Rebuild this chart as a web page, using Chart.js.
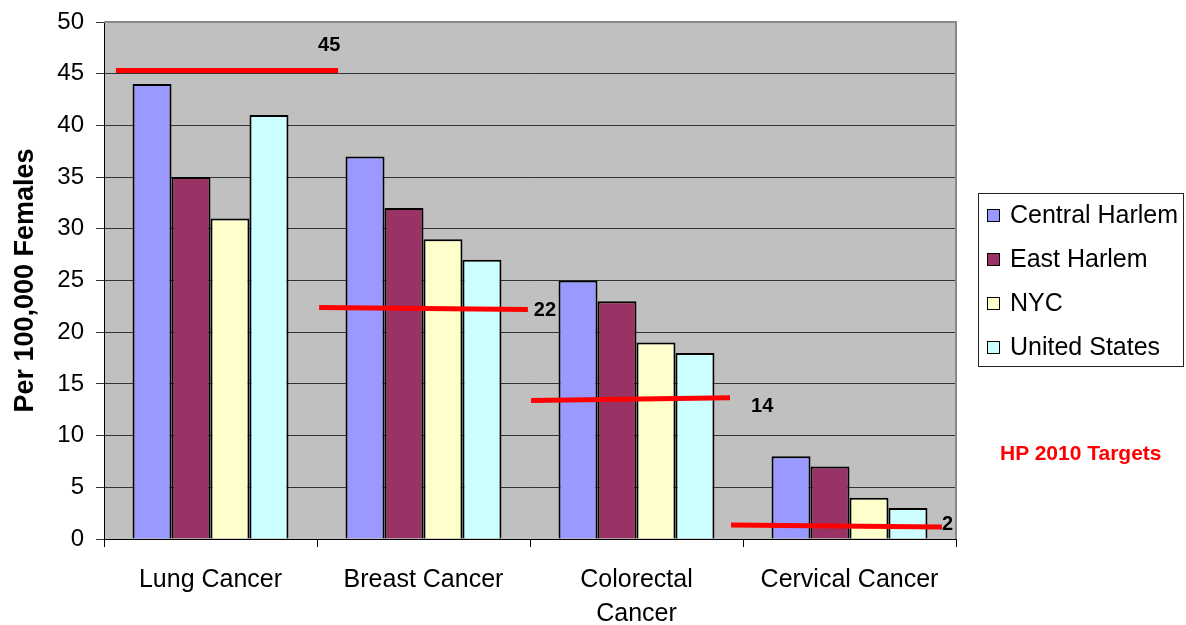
<!DOCTYPE html>
<html>
<head>
<meta charset="utf-8">
<script src="https://cdn.jsdelivr.net/npm/chart.js@4/dist/chart.umd.min.js"></script>
<style>
  body { margin: 0; background: #fff; font-family: "Liberation Sans", Arial, sans-serif; }
  #wrap { position: relative; width: 1186px; height: 625px; }
  #legend { position: absolute; left: 978px; top: 193px; width: 206px; height: 174px; border: 1px solid #222; box-sizing: border-box; }
  .item { position: absolute; left: 8px; height: 30px; line-height: 30px; font-size: 25px; white-space: nowrap; }
  .item span.box { display: inline-block; width: 11px; height: 11px; border: 1.5px solid #000; margin-right: 10px; vertical-align: 1px; }
  #targets { position: absolute; left: 1000px; top: 441px; font-weight: bold; font-size: 21px; color: #ff0000; }
</style>
</head>
<body>
<div id="wrap">
  <canvas id="chart" width="1186" height="625"></canvas>
  <div id="legend"></div>
  <div id="targets">HP 2010 Targets</div>
</div>
<script>
const categories = [['Lung Cancer'], ['Breast Cancer'], ['Colorectal', 'Cancer'], ['Cervical Cancer']];
const seriesNames = ['Central Harlem', 'East Harlem', 'NYC', 'United States'];
const centralHarlem = [44, 37, 25, 8];
const eastHarlem = [35, 32, 23, 7];
const nyc = [31, 29, 19, 4];
const unitedStates = [41, 27, 18, 3];
const yTicks = [0, 5, 10, 15, 20, 25, 30, 35, 40, 45, 50];

// HP 2010 targets (label) and where the hand-drawn red lines start / end
const targetLabels = ['45', '22', '14', '2'];
const targetFrom = [45.3, 22.4, 13.4, 1.35];
const targetTo = [45.3, 22.2, 13.65, 1.15];

const colors = ['#9999ff', '#993366', '#ffffcc', '#ccffff'];
const font = '"Liberation Sans", Arial, sans-serif';

const legend = document.getElementById('legend');
seriesNames.forEach((name, i) => {
    const d = document.createElement('div');
    d.className = 'item';
    d.style.top = (5 + i * 44) + 'px';
    d.innerHTML = `<span class="box" style="background:${colors[i]}"></span>${name}`;
    legend.appendChild(d);
});

const plotBg = {
    id: 'plotBg',
    beforeDraw(chart) {
        const a = chart.chartArea, ctx = chart.ctx;
        ctx.save();
        ctx.fillStyle = '#c0c0c0';
        ctx.fillRect(a.left, a.top, a.right - a.left, a.bottom - a.top);
        ctx.restore();
    },
    afterDraw(chart) {
        const a = chart.chartArea, ctx = chart.ctx;
        ctx.save();
        ctx.strokeStyle = '#888';
        ctx.lineWidth = 2;
        ctx.beginPath();
        ctx.moveTo(a.left, a.top);
        ctx.lineTo(a.right, a.top);
        ctx.lineTo(a.right, a.bottom);
        ctx.stroke();
        ctx.restore();
    }
};

// red target lines, spans as a share of the category width
const spans = [[-0.444, 0.599], [-0.49, 0.49], [-0.495, 0.439], [-0.556, 0.434]];
const labelOffsets = [[-20, -25], [6, 1], [21, 9], [0, -3]];
const targetLines = {
    id: 'targetLines',
    afterDatasetsDraw(chart) {
        const x = chart.scales.x, y = chart.scales.y, ctx = chart.ctx;
        const w = x.width / categories.length;
        ctx.save();
        targetLabels.forEach((lbl, i) => {
            const c = x.getPixelForValue(i);
            const x1 = c + spans[i][0] * w, x2 = c + spans[i][1] * w;
            const y1 = y.getPixelForValue(targetFrom[i]), y2 = y.getPixelForValue(targetTo[i]);
            ctx.strokeStyle = '#ff0000';
            ctx.lineWidth = 5;
            ctx.beginPath();
            ctx.moveTo(x1, y1);
            ctx.lineTo(x2, y2);
            ctx.stroke();
            ctx.fillStyle = '#000';
            ctx.font = 'bold 20px ' + font;
            ctx.textAlign = 'left';
            ctx.textBaseline = 'middle';
            ctx.fillText(lbl, x2 + labelOffsets[i][0], y2 + labelOffsets[i][1]);
        });
        ctx.restore();
    }
};

const allSeries = [centralHarlem, eastHarlem, nyc, unitedStates];

new Chart(document.getElementById('chart'), {
    type: 'bar',
    data: {
        labels: categories,
        datasets: allSeries.map((vals, i) => ({
            label: seriesNames[i],
            data: vals,
            backgroundColor: colors[i],
            borderColor: '#000',
            borderWidth: 2,
            categoryPercentage: 0.732,
            barPercentage: 1
        }))
    },
    options: {
        responsive: false,
        animation: false,
        layout: { padding: { top: 22, right: 230, left: 0, bottom: 0 } },
        plugins: { legend: { display: false }, tooltip: { enabled: false } },
        scales: {
            x: {
                afterFit(s) { s.height = 86; },
                grid: { drawOnChartArea: false, drawTicks: true, tickLength: 8, color: '#000' },
                border: { display: true, color: '#000', width: 1 },
                ticks: { color: '#000', font: { family: font, size: 25, lineHeight: 1.36 }, padding: 16, maxRotation: 0 }
            },
            y: {
                min: 0,
                max: 50,
                afterFit(s) { s.width = 104; s.paddingTop = 0; s.paddingBottom = 0; },
                afterBuildTicks(s) { s.ticks = yTicks.map(v => ({ value: v })); },
                grid: { color: '#333', lineWidth: 1, tickLength: 8 },
                border: { display: true, color: '#000', width: 1 },
                ticks: { color: '#000', font: { family: font, size: 24 }, padding: 12 },
                title: {
                    display: true,
                    text: 'Per 100,000 Females',
                    color: '#000',
                    font: { family: font, size: 27, weight: 'bold' },
                    padding: { top: 9, bottom: 0 }
                }
            }
        }
    },
    plugins: [plotBg, targetLines]
});
</script>
</body>
</html>
